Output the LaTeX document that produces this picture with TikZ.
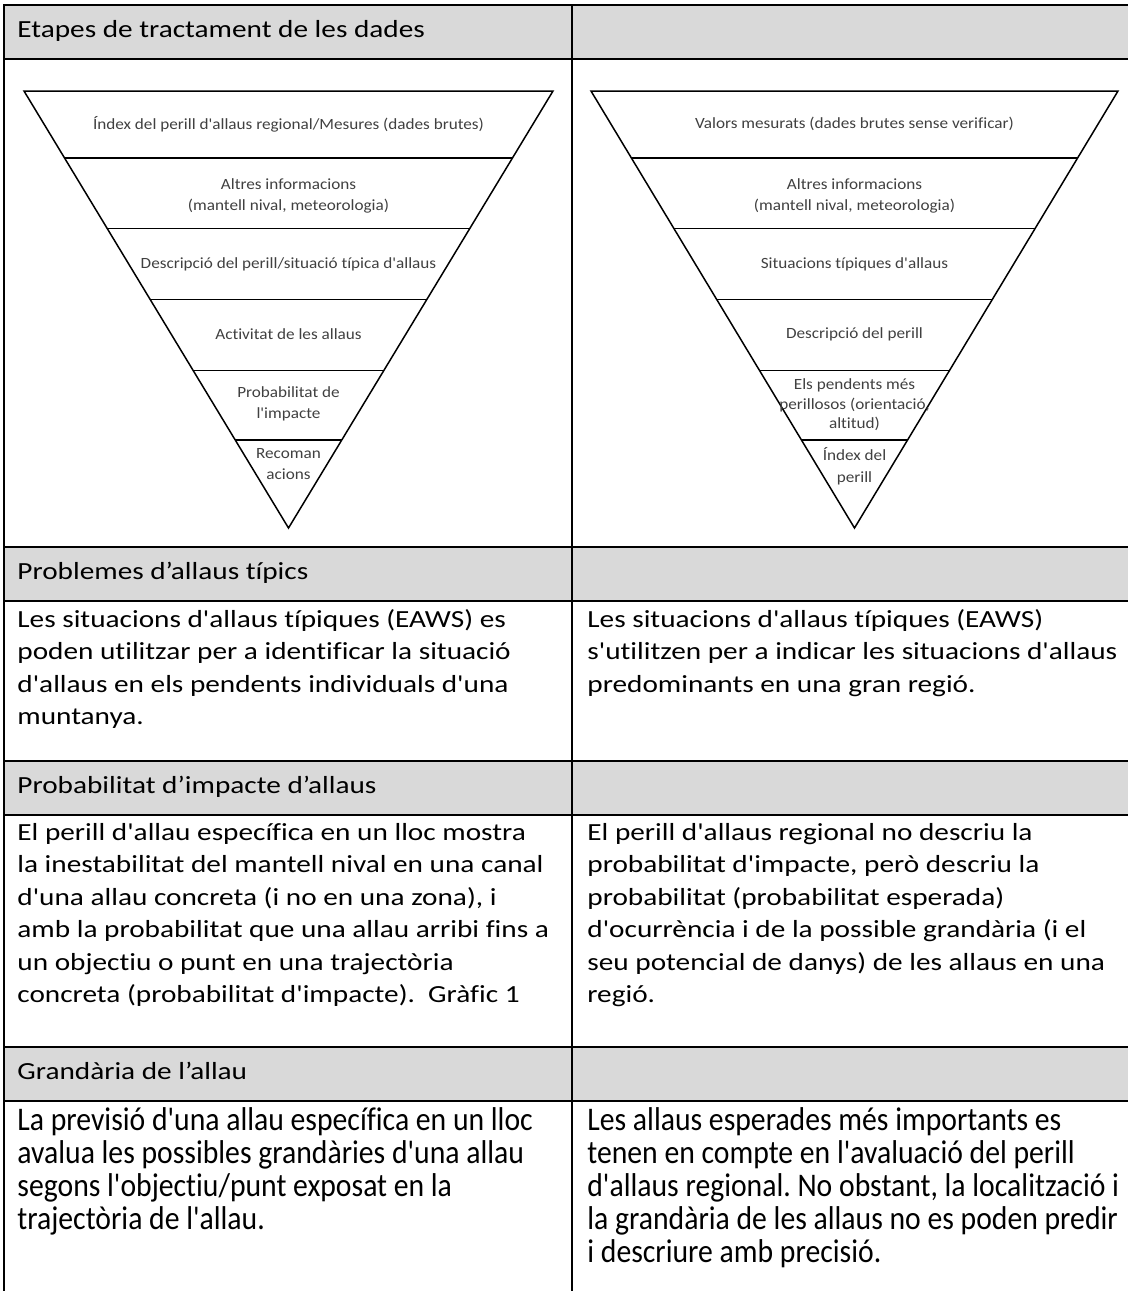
\documentclass[tikz,border=0pt]{standalone}
\usepackage{graphicx}
\usepackage{fontspec}
\setmainfont{Carlito}[Ligatures={TeXOff,NoCommon}]
\newfontfamily\widefont{Carlito}[FakeStretch=1.19, Ligatures={TeXOff,NoCommon}]
\newfontfamily\tallfont{Carlito}[FakeStretch=0.9, Ligatures={TeXOff,NoCommon}]
\newfontfamily\labelfont{Carlito}[FakeStretch=1.1, Ligatures={TeXOff,NoCommon}]
\usetikzlibrary{positioning,calc}

\definecolor{headgray}{HTML}{D9D9D9}
\definecolor{labelgray}{HTML}{404040}

\newcommand{\bodysize}{\widefont\fontsize{12.3}{16.25}\selectfont\frenchspacing}
\newcommand{\tallsize}{\tallfont\fontsize{16.5}{16.5}\selectfont\frenchspacing}
\newcommand{\labelsize}{\labelfont\fontsize{7.8}{10.8}\selectfont}

\begin{document}
\begin{tikzpicture}[
    x=0.5pt, y=-0.5pt,
    cell/.style={rectangle, draw=black, line width=1.2pt, inner sep=0pt, outer sep=0pt, minimum width=284pt},
    head/.style={cell, fill=headgray, minimum height=27pt},
    txt/.style={inner sep=0pt, align=left, font=\bodysize},
    tri/.style={draw=black, line width=0.75pt, line join=miter},
    lbl/.style={inner sep=0pt, align=center, font=\labelsize, text=labelgray},
    ]
    \useasboundingbox (0,0) rectangle (1128,1291);

    %%% table cells %%%
    \node[head, anchor=north west] (h1l) at (4,5) {};
    \node[head, right=0pt of h1l] (h1r) {};
    \node[cell, minimum height=244pt, below=0pt of h1l] (c1l) {};
    \node[cell, minimum height=244pt, below=0pt of h1r] (c1r) {};
    \node[head, below=0pt of c1l] (h2l) {};
    \node[head, below=0pt of c1r] (h2r) {};
    \node[cell, minimum height=80pt, below=0pt of h2l] (c2l) {};
    \node[cell, minimum height=80pt, below=0pt of h2r] (c2r) {};
    \node[head, below=0pt of c2l] (h3l) {};
    \node[head, below=0pt of c2r] (h3r) {};
    \node[cell, minimum height=116pt, below=0pt of h3l] (c3l) {};
    \node[cell, minimum height=116pt, below=0pt of h3r] (c3r) {};
    \node[head, below=0pt of c3l] (h4l) {};
    \node[head, below=0pt of c3r] (h4r) {};
    \node[cell, minimum height=100pt, below=0pt of h4l] (c4l) {};
    \node[cell, minimum height=100pt, below=0pt of h4r] (c4r) {};

    % header texts
    \node[txt, below right=7.5pt and 6.5pt of h1l.north west] (t_h1) {Etapes de tractament de les dades};
    \node[txt, below right=7.5pt and 6.5pt of h2l.north west] (t_h2) {Problemes d’allaus típics};
    \node[txt, below right=7.5pt and 6.5pt of h3l.north west] (t_h3) {Probabilitat d’impacte d’allaus};
    \node[txt, below right=7.5pt and 6.5pt of h4l.north west] (t_h4) {Grandària de l’allau};

    %%% left triangle %%%
    \coordinate (Ltl) at (24,91);
    \coordinate (Ltr) at (553,91);
    \coordinate (Lap) at (288.5,528);
    \draw[tri] (Ltl) -- (Ltr) -- (Lap) -- cycle;
    \foreach \t in {0.153,0.315,0.477,0.639,0.799}
        \draw[tri] ($(Ltl)!\t!(Lap)$) -- ($(Ltr)!\t!(Lap)$);

    \node[lbl] (L1) at (288.5,124) {Índex del perill d'allaus regional/Mesures (dades brutes)};
    \node[lbl] (L2) at (288.5,196) {Altres informacions\\(mantell nival, meteorologia)};
    \node[lbl] (L3) at (288.5,264) {Descripció del perill/situació típica d'allaus};
    \node[lbl] (L4) at (288.5,334) {Activitat de les allaus};
    \node[lbl] (L5) at (288.5,404) {Probabilitat de\\l'impacte};
    \node[lbl] (L6) at (288.5,464) {Recoman\\acions};

    %%% right triangle %%%
    \coordinate (Rtl) at (591,91);
    \coordinate (Rtr) at (1118,91);
    \coordinate (Rap) at (854.5,528);
    \draw[tri] (Rtl) -- (Rtr) -- (Rap) -- cycle;
    \foreach \t in {0.153,0.315,0.477,0.639,0.799}
        \draw[tri] ($(Rtl)!\t!(Rap)$) -- ($(Rtr)!\t!(Rap)$);

    \node[lbl] (R1) at (854.5,124) {Valors mesurats (dades brutes sense verificar)};
    \node[lbl] (R2) at (854.5,196) {Altres informacions\\(mantell nival, meteorologia)};
    \node[lbl] (R3) at (854.5,264) {Situacions típiques d'allaus};
    \node[lbl] (R4) at (854.5,334) {Descripció del perill};
    \node[lbl] (R5) at (854.5,405) {Els pendents més\\[-1pt]perillosos (orientació,\\[-1pt]altitud)};
    \node[lbl] (R6) at (854.5,466) {Índex del\\perill};

    %%% body texts %%%
    % typical problems
    \node[txt, below right=4pt and 6.5pt of c2l.north west] (t_c2l) {Les situacions d'allaus típiques (EAWS) es\\
        poden utilitzar per a identificar la situació\\
        d'allaus en els pendents individuals d'una\\
        muntanya.};
    \node[txt, below right=4pt and 7.5pt of c2r.north west] (t_c2r) {Les situacions d'allaus típiques (EAWS)\\
        s'utilitzen per a indicar les situacions d'allaus\\
        predominants en una gran regió.};
    % impact probability
    \node[txt, below right=4pt and 6.5pt of c3l.north west] (t_c3l) {El perill d'allau específica en un lloc mostra\\
        la inestabilitat del mantell nival en una canal\\
        d'una allau concreta (i no en una zona), i\\
        amb la probabilitat que una allau arribi fins a\\
        un objectiu o punt en una trajectòria\\
        concreta (probabilitat d'impacte).\ \ Gràfic 1};
    \node[txt, below right=4pt and 7.5pt of c3r.north west] (t_c3r) {El perill d'allaus regional no descriu la\\
        probabilitat d'impacte, però descriu la\\
        probabilitat (probabilitat esperada)\\
        d'ocurrència i de la possible grandària (i el\\
        seu potencial de danys) de les allaus en una\\
        regió.};
    % avalanche size
    \node[txt, font=\tallsize, below right=3pt and 6.5pt of c4l.north west] (t_c4l) {La previsió d'una allau específica en un lloc\\
        avalua les possibles grandàries d'una allau\\
        segons l'objectiu/punt exposat en la\\
        trajectòria de l'allau.};
    \node[txt, font=\tallsize, below right=3pt and 7.5pt of c4r.north west] (t_c4r) {Les allaus esperades més importants es\\
        tenen en compte en l'avaluació del perill\\
        d'allaus regional. No obstant, la localització i\\
        la grandària de les allaus no es poden predir\\
        i descriure amb precisió.};
\end{tikzpicture}
\end{document}
